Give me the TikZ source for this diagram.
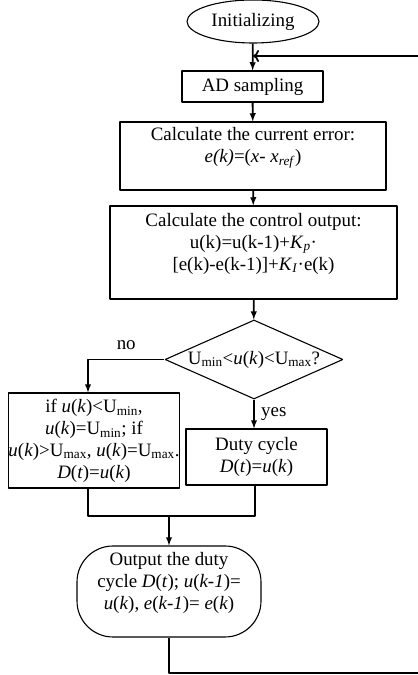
\documentclass[tikz,border=0pt]{standalone}
\usepackage{fontspec}
\setmainfont{Liberation Serif}
\usetikzlibrary{shapes.geometric,arrows.meta}
\tikzset{
  box/.style={draw=black,rectangle,line width=1.1bp,inner sep=0pt,align=center},
  flow/.style={->,line width=1.8bp},
  link/.style={line width=1.2bp},
}
\begin{document}
\begin{tikzpicture}[>=latex,line join=bevel,font=\fontsize{19}{22}\selectfont]
    \useasboundingbox (0bp,0bp) rectangle (418bp,675bp);
    \clip (0bp,0bp) rectangle (418bp,675bp);
    %%
    \node (init) at (253.0bp,653.5bp) [draw=black,ellipse,line width=1.1bp,inner sep=0pt,minimum width=132bp,minimum height=43bp] {Initializing};
    \node (ad) at (252.5bp,588.5bp) [box,minimum width=141bp,minimum height=31bp] {AD sampling};
    \node (err) at (253.0bp,519.0bp) [box,minimum width=266bp,minimum height=68bp] {Calculate the current error:\\ \textit{e(k)}=(\textit{x}- \textit{x}\textsubscript{\textit{ref}})\\ ~};
    \node (ctrl) at (253.5bp,422.5bp) [box,minimum width=287bp,minimum height=93bp] {Calculate the control output:\\ u(k)=u(k-1)+\textit{K}\textsubscript{\textit{p}}·\\ {[}e(k)-e(k-1)]+\textit{K}\textsubscript{\textit{I}}·e(k)\\ ~};
    \node (dec) at (254.0bp,315.5bp) [draw=black,diamond,line width=1.1bp,inner sep=0pt,aspect=2.25,minimum width=178bp,minimum height=79bp] {U\textsubscript{min}<\textit{u}(\textit{k})<U\textsubscript{max}?};
    \node (limit) at (94.0bp,234.5bp) [box,minimum width=170bp,minimum height=95bp] {if \textit{u}(\textit{k})<U\textsubscript{min},\\ \textit{u}(\textit{k})=U\textsubscript{min}; if\\ \textit{u}(\textit{k})>U\textsubscript{max}, \textit{u}(\textit{k})=U\textsubscript{max}.\\ \textit{D}(\textit{t})=\textit{u}(\textit{k})};
    \node (duty) at (256.5bp,218.0bp) [box,minimum width=141bp,minimum height=56bp] {Duty cycle\\ \textit{D}(\textit{t})=\textit{u}(\textit{k})};
    \node (out) at (169.0bp,83.5bp) [box,rounded corners=36bp,minimum width=184bp,minimum height=91bp] {Output the duty\\ cycle \textit{D}(\textit{t}); \textit{u}(\textit{k-1})=\\ \textit{u}(\textit{k}), \textit{e}(\textit{k-1})= \textit{e}(\textit{k})\\ ~};
    \coordinate (j1) at (88.0bp,159.0bp);
    \coordinate (j2) at (255.0bp,159.0bp);
    \coordinate (fb1) at (417.0bp,2.0bp);
    \coordinate (fb2) at (425.0bp,619.0bp);
    %
    \draw [flow] (init) -- (ad);
    \draw [flow] (ad) -- (err);
    \draw [flow] (err) -- (ctrl);
    \draw [flow] (ctrl) -- (dec);
    \draw [flow] (dec.west) -| (j1 |- limit.north) node (no) [pos=0.25,above=6bp] {no};
    \draw [flow] (dec.south) -- (dec.south |- duty.north) node (yes) [midway,right=3bp] {yes};
    \draw [link] (j1 |- limit.south) -- (j1) -- (j2) -- (j2 |- duty.south);
    \draw [flow] (out.north |- j1) -- (out);
    \draw [link] (out.south) |- (fb1) -- (fb1 -| fb2) -- (fb2);
    \draw [-{To[length=6bp,width=12bp]},line width=1.8bp] (fb2) -- (init.south |- fb2);
    %
\end{tikzpicture}
\end{document}
